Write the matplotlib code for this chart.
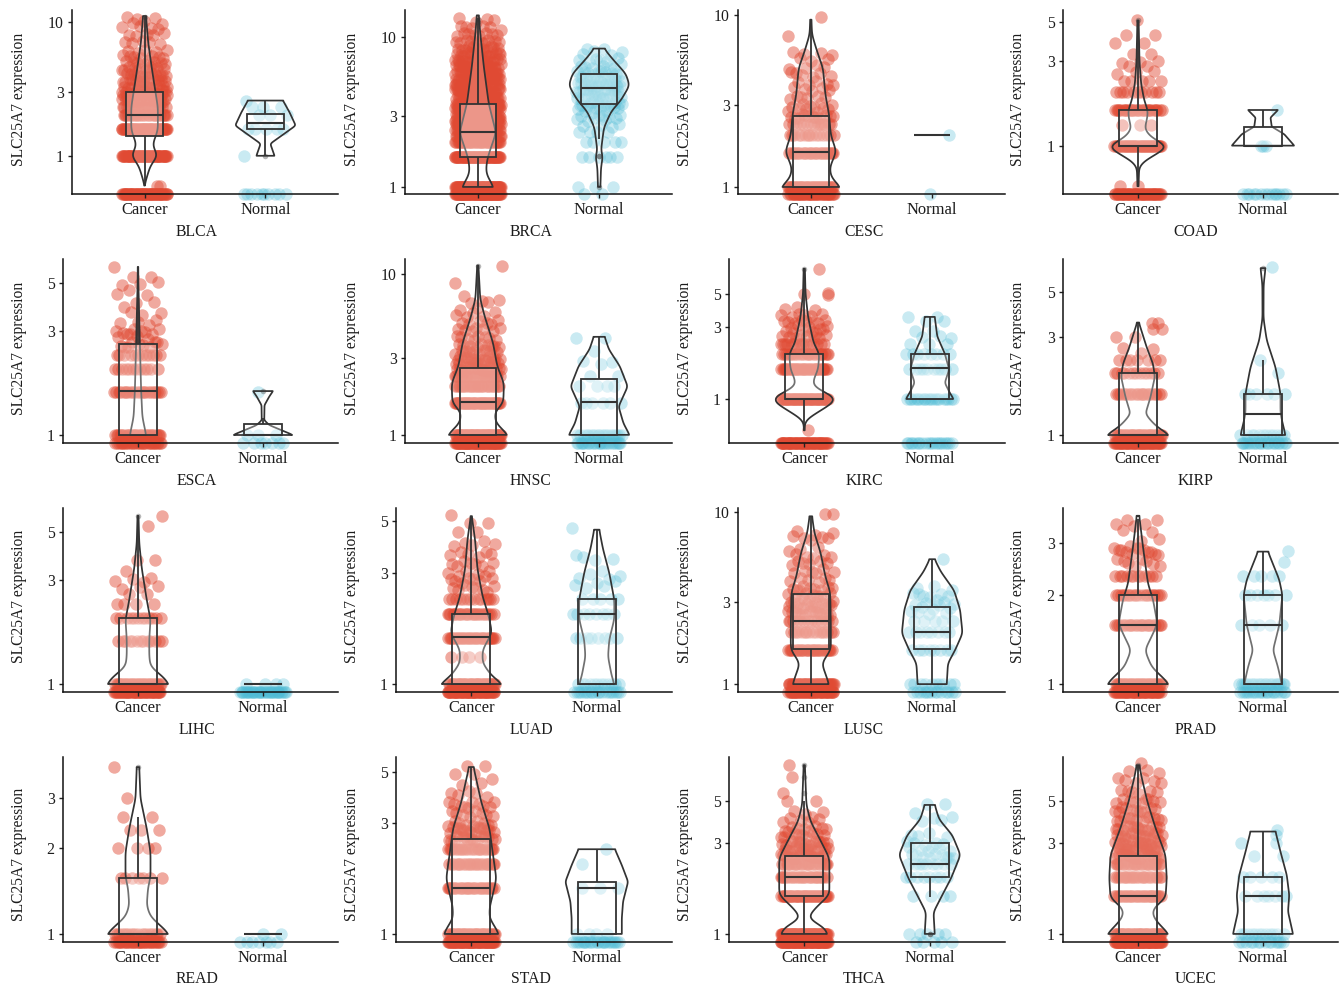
import numpy as np
import matplotlib
matplotlib.use("Agg")
import matplotlib.pyplot as plt

plt.rcParams['font.family'] = ['Liberation Serif', 'DejaVu Serif']

# ---------- data ----------
names = ["BLCA","BRCA","CESC","COAD","ESCA","HNSC","KIRC","KIRP",
         "LIHC","LUAD","LUSC","PRAD","READ","STAD","THCA","UCEC"]
groups = ["Cancer", "Normal"]
ylabel_text = "SLC25A7 expression"

y_low = dict(BLCA=.519,BRCA=.897,CESC=.91,COAD=.533,ESCA=.919,HNSC=.89,KIRC=.511,KIRP=.914,
             LIHC=.919,LUAD=.924,LUSC=.90,PRAD=.94,READ=.937,STAD=.923,THCA=.907,UCEC=.907)
y_high = dict(BLCA=12.2,BRCA=15.2,CESC=10.7,COAD=5.84,ESCA=6.41,HNSC=12.4,KIRC=8.47,KIRP=7.2,
              LIHC=6.41,LUAD=5.7,LUSC=10.5,PRAD=3.93,READ=4.2,STAD=5.8,THCA=8.5,UCEC=8.5)
y_ticks = dict(BLCA=[1,3,10],BRCA=[1,3,10],CESC=[1,3,10],COAD=[1,3,5],ESCA=[1,3,5],HNSC=[1,3,10],
               KIRC=[1,3,5],KIRP=[1,3,5],LIHC=[1,3,5],LUAD=[1,3,5],LUSC=[1,3,10],PRAD=[1,2,3],
               READ=[1,2,3],STAD=[1,3,5],THCA=[1,3,5],UCEC=[1,3,5])

# expression levels (0 sits on the axis) and how many dots at each
cancer_levels = dict(
 BLCA=[0,.6,1,1.58,2,2.32,2.58,2.81,3,3.3,3.6,4,4.5,5,5.5,6,7,8,9,10,10.8],
 BRCA=[0,1,1.58,2,2.2,2.4,2.6,2.8,3,3.3,3.6,4,4.4,4.8,5.3,5.8,6.4,7,7.7,8.5,9.4,10.4,11.5,13],
 CESC=[0,1,1.58,2,2.32,2.58,2.81,3,3.3,3.7,4,4.5,5,5.6,6,7.6,9.7],
 COAD=[0,.59,1,1.3,1.58,2,2.32,2.58,2.81,3,3.3,3.8,4.2,5.1],
 ESCA=[0,1,1.58,2,2.32,2.58,2.81,3,3.3,3.6,4,4.5,5,5.3,5.9],
 HNSC=[0,1,1.58,2,2.32,2.58,2.81,3,3.3,3.6,4,4.5,5,5.5,6,6.8,7.3,8.8,11.2],
 KIRC=[0,.62,1,1.58,2,2.32,2.58,2.81,3,3.3,3.6,4,5,7.3],
 KIRP=[0,1,1.58,2,2.32,2.58,3,3.3,3.5],
 LIHC=[0,1,1.58,2,2.32,2.58,2.81,3,3.3,3.7,5.3,5.9],
 LUAD=[0,1,1.3,1.58,2,2.32,2.58,2.81,3,3.3,3.6,4,4.5,4.9,5.3],
 LUSC=[0,1,1.58,2,2.32,2.58,2.81,3,3.3,3.6,4,4.5,5,5.5,6,7,7.6,9.7],
 PRAD=[0,1,1.58,2,2.32,2.58,2.81,3,3.32,3.46,3.58],
 READ=[0,1,1.58,2,2.32,2.58,3,3.87],
 STAD=[0,1,1.58,2,2.32,2.58,2.81,3,3.3,3.6,4,4.5,4.9,5.3],
 THCA=[0,1,1.58,2,2.32,2.58,2.81,3,3.3,3.6,4,4.4,5,5.5,6.7,7.7],
 UCEC=[0,1,1.58,2,2.32,2.58,2.81,3,3.3,3.6,4,4.5,5,5.6,6.4,7.2,7.9])
cancer_counts = dict(
 BLCA=[60,2,60,60,25,20,18,16,14,14,12,12,10,8,7,5,5,5,4,3,3],
 BRCA=[80,80,70,40,35,35,35,35,35,35,35,32,30,28,26,24,22,20,16,12,10,8,6,4],
 CESC=[45,45,30,15,14,12,6,6,6,5,5,6,4,3,4,1,1],
 COAD=[50,2,45,3,30,11,5,3,2,3,2,2,2,1],
 ESCA=[30,30,25,12,12,10,4,8,4,3,3,3,3,2,1],
 HNSC=[70,60,50,30,25,20,12,12,10,9,8,7,6,4,3,4,1,1,1],
 KIRC=[60,1,55,40,25,15,8,6,5,8,6,3,3,1],
 KIRP=[55,40,22,13,7,3,2,2,2],
 LIHC=[50,35,13,12,4,2,3,4,1,2,1,1],
 LUAD=[60,45,4,35,28,14,8,7,6,7,6,5,2,2,1],
 LUSC=[50,45,30,16,14,14,11,9,9,9,6,6,6,5,3,5,3,2],
 PRAD=[50,35,25,20,12,8,12,3,3,2,2],
 READ=[35,20,7,4,3,2,1,1],
 STAD=[70,40,32,25,25,18,15,9,8,10,5,3,2,2],
 THCA=[80,70,50,30,25,20,14,14,10,8,6,3,2,1,1,1],
 UCEC=[80,45,35,25,25,20,15,15,15,14,12,10,9,6,6,3,1])
normal_levels = dict(
 BLCA=[0,1,1.58,2,2.32,2.58],
 BRCA=[0,1,1.58,2,2.32,2.58,2.81,3,3.3,3.6,4,4.4,4.8,5.3,5.8,6.4,7,7.8,8.4],
 CESC=[0,2],
 COAD=[0,1,1.58],
 ESCA=[0,1,1.58],
 HNSC=[0,1,1.58,2,2.32,2.81,3.3,4],
 KIRC=[0,1,1.58,2,2.32,2.58,2.81,3.3,3.5],
 KIRP=[0,1,1.58,2,2.32,6.6],
 LIHC=[0,1],
 LUAD=[0,1,1.58,2,2.32,2.58,2.81,3,3.5,4.7],
 LUSC=[0,1,1.58,2,2.32,2.58,2.81,3,3.3,3.6,5.3],
 PRAD=[0,1,1.58,2,2.32,2.58,2.81],
 READ=[0,1],
 STAD=[0,1,1.58,2,2.32],
 THCA=[0,1,1.58,2,2.32,2.58,2.81,3,3.3,4,4.3,4.8],
 UCEC=[0,1,1.58,2,2.58,3,3.3,3.5])
normal_counts = dict(
 BLCA=[10,1,5,3,3,1],
 BRCA=[2,3,6,5,4,4,5,6,8,12,14,14,14,12,10,7,6,4,2],
 CESC=[1,1],
 COAD=[14,3,1],
 ESCA=[7,3,1],
 HNSC=[24,20,6,4,2,3,1,2],
 KIRC=[20,20,10,8,3,3,2,2,2],
 KIRP=[22,12,6,1,1,1],
 LIHC=[40,4],
 LUAD=[20,12,8,8,5,3,4,3,4,1],
 LUSC=[14,10,8,8,5,4,5,4,6,3,1],
 PRAD=[20,22,5,7,5,1,1],
 READ=[7,2],
 STAD=[24,4,3,1,1],
 THCA=[5,5,4,8,9,9,6,5,4,4,1,2],
 UCEC=[14,12,7,5,2,2,1,1])

# sideways offsets of the sparse dots that can be told apart in the picture
cancer_offsets = dict(
 BLCA={.6:[.1,.13]}, CESC={9.7:[.08],7.6:[-.19]}, ESCA={5.9:[-.19]},
 HNSC={11.2:[.2],8.8:[-.19]}, KIRC={7.3:[.12],5:[.19,0,.19],.62:[.03]},
 LIHC={5.9:[.19],5.3:[.08]}, LUSC={9.7:[.12,.18]}, READ={3.87:[-.19],3:[-.09]},
 THCA={7.7:[-.12],6.7:[-.1],5.5:[-.17]}, KIRP={3.5:[.11,.16],3.3:[.12,.19]})
normal_offsets = dict(
 CESC={0:[-.02],2:[.14]}, COAD={1.58:[.11],1:[-.02,0,.02]}, KIRP={6.6:[.07]},
 ESCA={1.58:[-.04]}, LUAD={4.7:[-.2]}, LUSC={5.3:[.09]}, PRAD={2.81:[.2],2.58:[.17]},
 STAD={2.32:[.07],2:[-.12]}, UCEC={3.5:[.11],3.3:[.1],3:[-.18,.1]}, BLCA={1:[-.18]})

# violin outline: expression value and half width
cancer_violin_y = dict(
 BLCA=[.6,.7,.85,1,1.2,1.55,2.3,3,4.5,7,11],
 BRCA=[1,1.22,1.4,1.61,2.3,3.6,6.3,10.6,14],
 CESC=[1,1.13,1.29,1.61,2,2.64,3.45,4.9,6.2,7.7,9.4],
 COAD=[.59,.77,.855,.91,1,1.09,1.24,1.38,1.57,1.8,2.23,3,5.1],
 ESCA=[1,1.21,1.6,2.63,5,5.9],
 HNSC=[1,1.18,1.37,1.58,2.1,2.67,3.74,5.5,7,11.3],
 KIRC=[.62,.72,.78,.86,.93,1,1.08,1.19,1.32,1.57,2,2.34,3.5,5,7.3],
 KIRP=[1,1.1,1.18,1.27,1.53,1.92,2.22,2.67,3.53],
 LIHC=[1,1.08,1.2,1.34,1.6,1.97,2.43,3.4,4.43,5.9],
 LUAD=[1,1.08,1.23,1.4,1.66,1.95,2.38,3.1,4.17,5.26],
 LUSC=[1,1.15,1.32,1.58,2.16,3.4,4.2,5.8,7.5,9.4],
 PRAD=[1,1.06,1.14,1.3,1.48,1.6,1.93,2.18,2.9,3.7],
 READ=[1,1.06,1.15,1.26,1.45,1.59,1.94,2.35,3,3.87],
 STAD=[1,1.07,1.17,1.29,1.47,1.73,2.26,2.85,3.7,5.25],
 THCA=[1,1.07,1.21,1.36,1.6,1.96,2.5,3,3.9,4.76,7.7],
 UCEC=[1,1.07,1.23,1.36,1.54,1.96,2.6,3.6,4.95,6.6,7.7])
cancer_violin_w = dict(
 BLCA=[0,.02,.05,.11,.065,.11,.11,.09,.06,.03,.012],
 BRCA=[.13,.07,.07,.085,.15,.09,.05,.02,.008],
 CESC=[.245,.17,.155,.21,.165,.15,.12,.1,.05,.01,.005],
 COAD=[.004,.01,.09,.17,.24,.12,.05,.07,.08,.05,.025,.012,.005],
 ESCA=[.065,.035,.025,.015,.003,.002],
 HNSC=[.25,.15,.135,.21,.215,.16,.125,.055,.02,.005],
 KIRC=[.003,.006,.07,.15,.22,.25,.2,.08,.07,.11,.12,.075,.03,.01,.005],
 KIRP=[.25,.15,.1,.06,.1,.135,.12,.07,.007],
 LIHC=[.25,.2,.1,.09,.09,.1,.07,.03,.01,.004],
 LUAD=[.25,.165,.09,.09,.165,.14,.09,.05,.03,.004],
 LUSC=[.15,.12,.09,.165,.165,.16,.12,.08,.03,.01],
 PRAD=[.25,.19,.11,.055,.12,.155,.12,.08,.04,.01],
 READ=[.25,.19,.1,.07,.08,.1,.1,.07,.02,.01],
 STAD=[.22,.19,.145,.145,.17,.2,.17,.145,.08,.018],
 THCA=[.185,.17,.027,.085,.2,.2,.2,.14,.05,.017,.005],
 UCEC=[.25,.2,.12,.12,.22,.23,.22,.14,.075,.03,.01])
normal_violin_y = dict(
 BLCA=[1,1.23,1.68,2.1,2.58],
 BRCA=[1,1.34,1.61,1.74,2.03,2.5,3.2,3.8,4.76,5.7,7,8.4],
 COAD=[1,1.16,1.28,1.44,1.59],
 ESCA=[1,1.11,1.17,1.37,1.5,1.59],
 HNSC=[1,1.18,1.5,2,2.67,3.4,4.07],
 KIRC=[1,1.1,1.28,1.57,2,2.6,3.5],
 KIRP=[1,1.12,1.27,1.59,2.14,2.89,3.7,5.4,6.5],
 LUAD=[1,1.08,1.31,1.55,1.9,2.3,3,3.8,4.6],
 LUSC=[1,1.32,1.58,1.97,2.7,3.5,4.5,5.3],
 PRAD=[1,1.14,1.3,1.58,2,2.25,2.8],
 STAD=[1,1.17,1.38,1.68,1.98,2.32],
 THCA=[1,1.3,1.6,1.96,2.6,3.3,4,4.76],
 UCEC=[1,1.31,1.6,2.04,2.7,3.45])
normal_violin_w = dict(
 BLCA=[.075,.04,.25,.2,.145],
 BRCA=[.01,.015,.03,.015,.025,.04,.1,.18,.25,.22,.12,.04],
 COAD=[.25,.17,.07,.06,.12],
 ESCA=[.24,.05,.01,.012,.05,.08],
 HNSC=[.25,.2,.16,.235,.17,.08,.045],
 KIRC=[.19,.16,.12,.155,.12,.06,.04],
 KIRP=[.18,.16,.14,.14,.1,.03,.004,.005,.02],
 LUAD=[.14,.12,.09,.1,.14,.14,.1,.05,.02],
 LUSC=[.12,.13,.19,.25,.23,.18,.07,.02],
 PRAD=[.15,.12,.08,.13,.155,.13,.04],
 STAD=[.2,.2,.21,.25,.2,.145],
 THCA=[.04,.03,.1,.17,.245,.18,.075,.04],
 UCEC=[.24,.2,.21,.19,.14,.1])

# box: whisker low, q1, median, q3, whisker high
cancer_box = dict(
 BLCA=[.6,1.41,2.03,3,10.8],BRCA=[1,1.59,2.34,3.6,13.5],CESC=[1,1,1.6,2.6,9.4],COAD=[.59,1,1,1.59,5.1],
 ESCA=[1,1,1.59,2.6,5.9],HNSC=[1,1,1.6,2.6,11],KIRC=[.62,1,1,2,7.3],KIRP=[1,1,1,2,3.5],
 LIHC=[1,1,1,2,5.9],LUAD=[1,1,1.59,2,5.2],LUSC=[1,1.59,2.33,3.33,9.3],PRAD=[1,1,1.58,2,3.6],
 READ=[1,1,1,1.58,2.58],STAD=[1,1,1.58,2.58,5.25],THCA=[1,1.58,2,2.58,5],UCEC=[1,1,1.58,2.58,7.7])
normal_box = dict(
 BLCA=[1,1.59,1.77,2.06,2.58],BRCA=[2.1,3.6,4.6,5.65,8.4],CESC=[2,2,2,2,2],COAD=[1,1,1,1.27,1.59],
 ESCA=[1,1,1,1.12,1.2],HNSC=[1,1,1.59,2.24,4.07],KIRC=[1,1,1.6,2,3.5],KIRP=[1,1,1.26,1.59,2.33],
 LIHC=[1,1,1,1,1],LUAD=[1,1,2,2.32,4.6],LUSC=[1,1.59,2,2.8,5.3],PRAD=[1,1,1.58,2,2.8],
 READ=[1,1,1,1,1],STAD=[1,1,1.58,1.68,2.32],THCA=[1.57,2,2.34,3,4.76],UCEC=[1,1,1.58,2,3.45])
cancer_outliers = dict(BLCA=[10.8],BRCA=[13.2,12.6],COAD=[5.15],HNSC=[11.2],KIRC=[7.3],LIHC=[5.9],
                       READ=[3.87],THCA=[5.5,6.7,7.7],UCEC=[7.7,7.4])
normal_outliers = dict(BLCA=[1],BRCA=[1,1.6,1.6],ESCA=[1.59],KIRP=[6.5],THCA=[1,1])

# ---------- layout in pixels of the reference ----------
W, H = 1343, 989
lefts = [[72,405,738,1063],[63,405,729,1063],[63,396,738,1063],[63,396,729,1063]]
rights = [338,672,1005,1338]
tops = [10,259,508,757]
bottoms = [194,443,692,942]
xlabel_x = [197,531,864,1196]
xlabel_y = [232,481,730,979]
ylabel_x = [19,352,685,1018]
ylabel_y = [99,348,596,854]

CANCER, NORMAL = "#E04A33", "#4DBBD5"
LINE = "#333333"
TEXT = "#1c1c1c"
GOLD = 0.6180339887
JIT = 0.19
BOX_HALF = 0.15
DOT = 80
FS = 11.3

def smooth_outline(vy, vw):
    ly = np.log10(vy)
    grid = np.linspace(ly[0], ly[-1], 160)
    w = np.interp(grid, ly, vw)
    k = 9
    pad = np.pad(w, k, mode='edge')
    kernel = np.hanning(2 * k + 1)
    kernel /= kernel.sum()
    s = np.convolve(pad, kernel, mode='same')[k:-k]
    return 10 ** grid, s

def draw_group(ax, cx, color, alpha, ys, ns, offs, vy, vw, box, outs, low, seed):
    xs, yy = [], []
    i = seed
    offs = offs or {}
    for y, n in zip(ys, ns):
        fixed = offs.get(y)
        for j in range(n):
            i += 1
            f = (i * GOLD) % 1
            if fixed is not None:
                xs.append(cx + fixed[j])
            else:
                xs.append(cx + JIT * (2 * f - 1))
            if y == 0:
                yy.append(low)
            elif y > 2.5 and n > 2:
                # above the discrete bands the values are nearly continuous
                yy.append(y * 10 ** (0.03 * (((i * 0.7548776662) % 1) - .5)))
            else:
                yy.append(y)
    ax.scatter(xs, yy, s=DOT, color=color, alpha=alpha, linewidths=0, clip_on=False, zorder=1)
    if vy is not None:
        gy, gw = smooth_outline(vy, vw)
        px = np.r_[cx - gw, (cx + gw)[::-1]]
        py = np.r_[gy, gy[::-1]]
        ax.fill(px, py, facecolor=(1, 1, 1, .18), edgecolor=LINE, lw=1.25, zorder=2, joinstyle='round')
    wl, q1, med, q3, wh = box
    ax.plot([cx, cx], [wl, q1], color=LINE, lw=1.3, zorder=3, solid_capstyle='butt')
    ax.plot([cx, cx], [q3, wh], color=LINE, lw=1.3, zorder=3, solid_capstyle='butt')
    if q3 > q1:
        ax.fill([cx-BOX_HALF, cx+BOX_HALF, cx+BOX_HALF, cx-BOX_HALF],
                [q1, q1, q3, q3], facecolor=(1, 1, 1, .3), edgecolor=LINE, lw=1.3, zorder=3)
    ax.plot([cx-BOX_HALF, cx+BOX_HALF], [med, med], color=LINE, lw=1.5, zorder=3, solid_capstyle='butt')
    if outs:
        ax.scatter([cx] * len(outs), outs, s=16, color="#333333", alpha=.35, linewidths=0, zorder=4)

fig = plt.figure(figsize=(W / 100, H / 100), dpi=100)
for idx, name in enumerate(names):
    r, c = idx // 4, idx % 4
    l, rgt, t, b = lefts[r][c], rights[c], tops[r], bottoms[r]
    ax = fig.add_axes([l / W, 1 - b / H, (rgt - l) / W, (b - t) / H])
    ax.set_yscale('log')
    low, high = y_low[name], y_high[name]
    ax.set_ylim(low, high)
    ax.set_xlim(0.4, 2.6)
    draw_group(ax, 1, CANCER, .47, cancer_levels[name], cancer_counts[name], cancer_offsets.get(name),
               cancer_violin_y.get(name), cancer_violin_w.get(name), cancer_box[name],
               cancer_outliers.get(name), low, idx * 7)
    draw_group(ax, 2, NORMAL, .3, normal_levels[name], normal_counts[name], normal_offsets.get(name),
               normal_violin_y.get(name), normal_violin_w.get(name), normal_box[name],
               normal_outliers.get(name), low, idx * 5 + 3)
    ax.set_xticks([1, 2], groups)
    ax.set_yticks(y_ticks[name], [str(v) for v in y_ticks[name]])
    ax.minorticks_off()
    ax.yaxis.set_minor_locator(matplotlib.ticker.NullLocator())
    ax.tick_params(axis='y', length=3, width=1, labelsize=FS, labelcolor=TEXT, color='#222222', pad=3)
    ax.tick_params(axis='x', length=3, width=1, labelsize=11.9, labelcolor=TEXT, color='#222222', pad=3)
    ax.patch.set_alpha(0)
    for s in ('top', 'right'):
        ax.spines[s].set_visible(False)
    for s in ('left', 'bottom'):
        ax.spines[s].set_linewidth(1.1)
        ax.spines[s].set_color('#111111')
    fig.text(xlabel_x[c] / W, 1 - xlabel_y[r] / H, name, ha='center', va='center', fontsize=FS, color=TEXT)
    fig.text(ylabel_x[c] / W, 1 - ylabel_y[r] / H, ylabel_text, ha='center', va='center',
             rotation=90, fontsize=11.2, color=TEXT)

fig.savefig("out.png", dpi=100)
